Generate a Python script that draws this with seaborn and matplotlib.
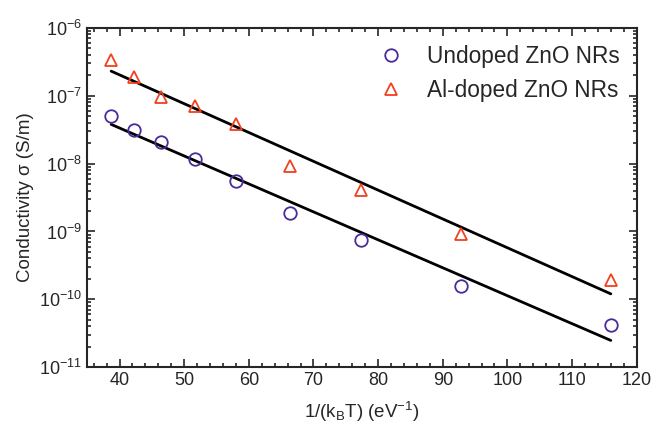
import numpy as np
import pandas as pd
import seaborn as sns
import matplotlib.pyplot as plt
from matplotlib.ticker import MultipleLocator, LogLocator, NullFormatter

# 1/(kB T) in eV^-1
inv_kT = [38.7, 42.2, 46.4, 51.6, 58.0, 66.3, 77.4, 92.8, 116.0]
# conductivity (S/m)
sigma_undoped = [5.0e-8, 3.1e-8, 2.1e-8, 1.17e-8, 5.5e-9, 1.86e-9, 7.4e-10, 1.55e-10, 4.2e-11]
sigma_aldoped = [3.4e-7, 1.9e-7, 9.5e-8, 7.1e-8, 3.8e-8, 9.1e-9, 4.1e-9, 9.1e-10, 1.9e-10]
labels = ['Undoped ZnO NRs', 'Al-doped ZnO NRs']

sns.set_style('ticks')
plt.rcParams['font.family'] = ['Liberation Sans', 'DejaVu Sans']
plt.rcParams['mathtext.fontset'] = 'custom'
plt.rcParams['mathtext.rm'] = 'Liberation Sans'
plt.rcParams['mathtext.it'] = 'Liberation Sans:italic'

df = pd.DataFrame({
    'x': inv_kT * 2,
    'sigma': sigma_undoped + sigma_aldoped,
    'sample': [labels[0]] * len(inv_kT) + [labels[1]] * len(inv_kT),
})

# Arrhenius fits (linear in log10 sigma)
fits = []
for lab in labels:
    sub = df[df['sample'] == lab]
    k, b = np.polyfit(sub['x'], np.log10(sub['sigma']), 1)
    xs = np.array([min(inv_kT), max(inv_kT)])
    fits.append(pd.DataFrame({'x': xs, 'sigma': 10 ** (k * xs + b), 'sample': lab}))
fit_df = pd.concat(fits)

fig = plt.figure(figsize=(6.51, 4.23), dpi=100)
ax = fig.add_axes([0.134, 0.132, 0.844, 0.802])

for lab in labels:
    sns.lineplot(data=fit_df[fit_df['sample'] == lab], x='x', y='sigma',
                 color='black', lw=2, ax=ax, legend=False)

colors = {labels[0]: '#4a2a9c', labels[1]: '#f0401e'}
markers = {labels[0]: 'o', labels[1]: '^'}
for lab in labels:
    sub = df[df['sample'] == lab]
    ax.plot(sub['x'], sub['sigma'], ls='none', marker=markers[lab], ms=9,
            mfc='none', mec=colors[lab], mew=1.3, label=lab)

ax.set_yscale('log')
ax.set_xlim(35, 120)
ax.set_ylim(1e-11, 1e-6)
ax.xaxis.set_major_locator(MultipleLocator(10))
ax.xaxis.set_minor_locator(MultipleLocator(2))
ax.yaxis.set_major_locator(LogLocator(base=10, numticks=10))
ax.yaxis.set_minor_locator(LogLocator(base=10, subs=np.arange(2, 10), numticks=10))
ax.yaxis.set_minor_formatter(NullFormatter())

ax.tick_params(which='both', direction='in', top=True, right=True, labelsize=13, width=1.2)
ax.tick_params(which='major', length=6)
ax.tick_params(which='minor', length=3)
for s in ax.spines.values():
    s.set_linewidth(1.5)

ax.set_xlabel(r'1/(k$_\mathrm{B}$T) (eV$^{-1}$)', fontsize=13.5, labelpad=8)
ax.set_ylabel('Conductivity σ (S/m)', fontsize=13.5, labelpad=4)

ax.legend(loc='upper right', frameon=False, fontsize=16.3, handletextpad=1.0,
          handlelength=1.2, markerscale=1.0, borderaxespad=0.35, labelspacing=0.5)

fig.savefig('out.png', dpi=100)
